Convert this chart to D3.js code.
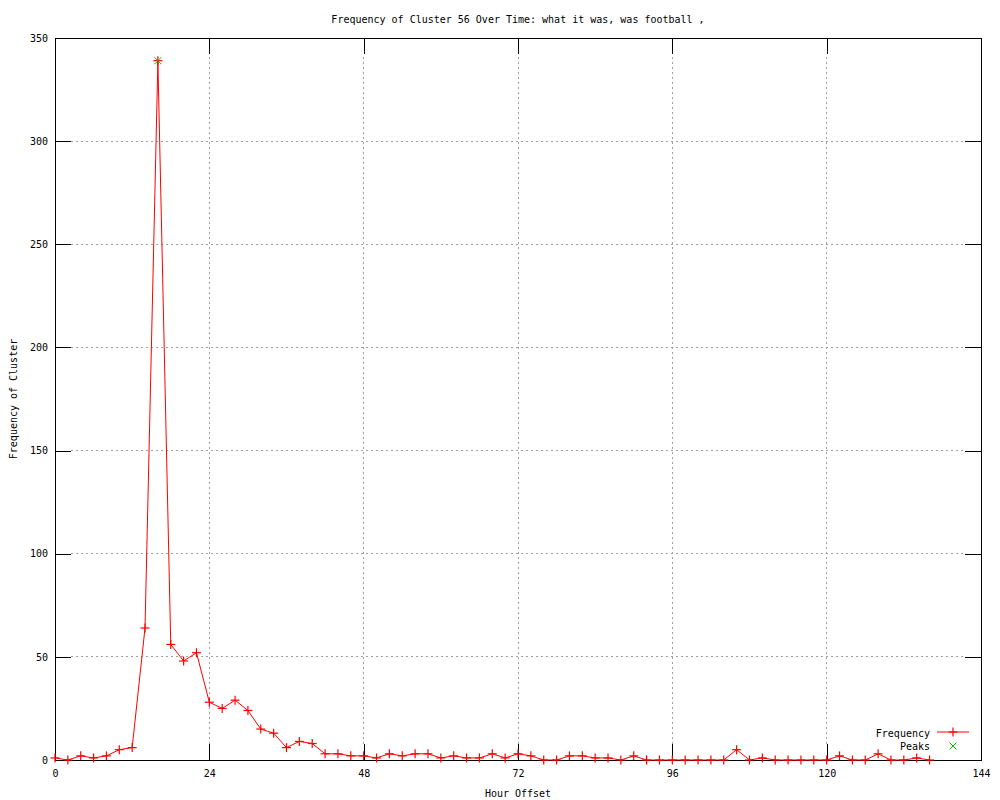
<!DOCTYPE html>
<html>
<head>
<meta charset="utf-8">
<script src="https://cdn.jsdelivr.net/npm/d3@7"></script>
<style>
  body { margin: 0; background: #fff; }
  text { font-family: "DejaVu Sans Mono", "Liberation Mono", monospace; font-size: 10px; fill: #000; }
</style>
</head>
<body>
<svg id="chart" width="1000" height="800"></svg>
<script>
// Data
const hours = [0,2,4,6,8,10,12,14,16,18,20,22,24,26,28,30,32,34,36,38,40,42,44,46,48,50,52,54,56,58,60,62,64,66,68,70,72,74,76,78,80,82,84,86,88,90,92,94,96,98,100,102,104,106,108,110,112,114,116,118,120,122,124,126,128,130,132,134,136];
const frequency = [1,0,2,1,2,5,6,64,339,56,48,52,28,25,29,24,15,13,6,9,8,3,3,2,2,1,3,2,3,3,1,2,1,1,3,1,3,2,0,0,2,2,1,1,0,2,0,0,0,0,0,0,0,5,0,1,0,0,0,0,0,2,0,0,3,0,0,1,0];
const peakHours = [16];
const peakValues = [339];
const xTicks = [0,24,48,72,96,120,144];
const yTicks = [0,50,100,150,200,250,300,350];
const title = "Frequency of Cluster 56 Over Time: what it was, was football ,";
const xLabel = "Hour Offset";
const yLabel = "Frequency of Cluster";
const seriesNames = ["Frequency", "Peaks"];

const svg = d3.select("#chart");
const L = 55, R = 981, T = 38, B = 760;
const x = d3.scaleLinear().domain([0,144]).range([L,R]);
const y = d3.scaleLinear().domain([0,350]).range([B,T]);
const tickLen = 16;

// grid
const grid = svg.append("g");
xTicks.slice(1,-1).forEach(t => {
  grid.append("line").attr("x1", x(t)).attr("x2", x(t)).attr("y1", B - tickLen).attr("y2", T + tickLen)
    .attr("stroke", "#a0a0a0").attr("stroke-width", 1).attr("stroke-dasharray", "2,3").attr("shape-rendering","crispEdges");
});
yTicks.slice(1,-1).forEach(t => {
  grid.append("line").attr("x1", L + tickLen).attr("x2", R - tickLen).attr("y1", y(t)).attr("y2", y(t))
    .attr("stroke", "#a0a0a0").attr("stroke-width", 1).attr("stroke-dasharray", "2,3").attr("shape-rendering","crispEdges");
});

// axes using d3 axis
const xAxisB = d3.axisBottom(x).tickValues(xTicks).tickSize(-tickLen).tickPadding(10).tickFormat(d3.format("d"));
const gxb = svg.append("g").attr("transform", `translate(0,${B})`).call(xAxisB);
const xAxisT = d3.axisTop(x).tickValues(xTicks).tickSize(-tickLen).tickFormat("");
const gxt = svg.append("g").attr("transform", `translate(0,${T})`).call(xAxisT);
const yAxisL = d3.axisLeft(y).tickValues(yTicks).tickSize(-tickLen).tickPadding(7).tickFormat(d3.format("d"));
const gyl = svg.append("g").attr("transform", `translate(${L},0)`).call(yAxisL);
const yAxisR = d3.axisRight(y).tickValues(yTicks).tickSize(-tickLen).tickFormat("");
const gyr = svg.append("g").attr("transform", `translate(${R},0)`).call(yAxisR);
[gxb,gxt,gyl,gyr].forEach(g => {
  g.select(".domain").remove();
  g.selectAll("line").attr("stroke","#000").attr("shape-rendering","crispEdges");
  g.selectAll("text").style("font-family", '"DejaVu Sans Mono", monospace').style("font-size","10px").attr("fill","#000");
});

// frame
svg.append("rect").attr("x", L).attr("y", T).attr("width", R - L).attr("height", B - T)
  .attr("fill","none").attr("stroke","#000").attr("stroke-width",1).attr("shape-rendering","crispEdges");

// line
const pts = hours.map((h,i) => [h, frequency[i]]);
const lineGen = d3.line().x(d => x(d[0])).y(d => y(d[1]));
svg.append("path").datum(pts).attr("d", lineGen).attr("fill","none").attr("stroke","#ff0000").attr("stroke-width",1);

const plus = (g, cx, cy, color) => {
  g.append("line").attr("x1", cx-4.5).attr("x2", cx+4.5).attr("y1", cy).attr("y2", cy).attr("stroke", color).attr("stroke-width",1.2);
  g.append("line").attr("x1", cx).attr("x2", cx).attr("y1", cy-4.5).attr("y2", cy+4.5).attr("stroke", color).attr("stroke-width",1.2);
};
const cross = (g, cx, cy, color) => {
  g.append("line").attr("x1", cx-3.5).attr("x2", cx+3.5).attr("y1", cy-3.5).attr("y2", cy+3.5).attr("stroke", color).attr("stroke-width",1);
  g.append("line").attr("x1", cx-3.5).attr("x2", cx+3.5).attr("y1", cy+3.5).attr("y2", cy-3.5).attr("stroke", color).attr("stroke-width",1);
};
const mk = svg.append("g");
pts.forEach(d => plus(mk, x(d[0]), y(d[1]), "#ff0000"));
peakHours.forEach((h,i) => cross(mk, x(h), y(peakValues[i]), "#00c000"));

// legend
const lg = svg.append("g");
lg.append("text").attr("x", 930).attr("y", 733).attr("text-anchor","end").attr("dy","0.35em").text(seriesNames[0]);
lg.append("line").attr("x1", 937).attr("x2", 969).attr("y1", 732).attr("y2", 732).attr("stroke","#ff0000").attr("stroke-width",1);
plus(lg, 953, 732, "#ff0000");
lg.append("text").attr("x", 930).attr("y", 746).attr("text-anchor","end").attr("dy","0.35em").text(seriesNames[1]);
cross(lg, 953, 746, "#00c000");

// titles
svg.append("text").attr("x", 518).attr("y", 19).attr("text-anchor","middle").attr("dy","0.35em").text(title);
svg.append("text").attr("x", 518).attr("y", 793).attr("text-anchor","middle").attr("dy","0.35em").text(xLabel);
svg.append("text").attr("transform","translate(13,399) rotate(-90)").attr("text-anchor","middle").attr("dy","0.35em").text(yLabel);
</script>
</body>
</html>
